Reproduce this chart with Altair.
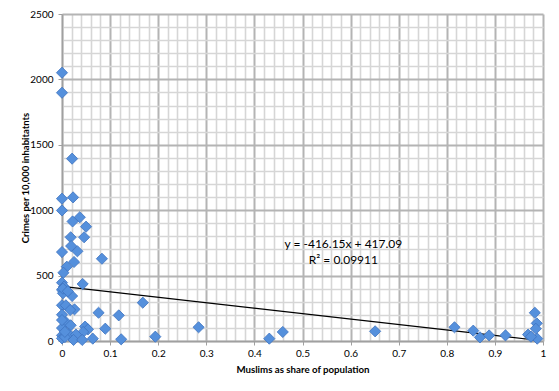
import altair as alt
import pandas as pd

# Data: share of Muslims (x) vs crimes per 10,000 inhabitants (y)
share = [
    0.0, 0.0, 0.021, 0.0, 0.023, 0.0, 0.022, 0.037, 0.050, 0.018,
    0.046, 0.019, 0.032, 0.0, 0.083, 0.025, 0.010, 0.003, 0.0, 0.043,
    0.004, 0.0, 0.002, 0.021, 0.168, 0.0, 0.008, 0.026, 0.017, 0.0,
    0.076, 0.118, 0.008, 0.018, 0.0, 0.048, 0.054, 0.090, 0.044, 0.014,
    0.0, 0.029, 0.024, 0.042, 0.064, 0.123, 0.194, 0.284, 0.0, 0.006,
    0.431, 0.459, 0.651, 0.816, 0.855, 0.869, 0.888, 0.922, 0.969, 0.983,
    0.987, 0.985, 0.988, 0.975, 0.002, 0.012, 0.0, 0.006,
]
crimes = [
    2051, 1898, 1394, 1088, 1098, 998, 914, 946, 874, 793,
    793, 726, 686, 680, 629, 604, 568, 522, 446, 436,
    415, 390, 365, 344, 293, 273, 273, 242, 237, 201,
    216, 196, 145, 120, 99, 110, 89, 94, 69, 54,
    43, 49, 8, 8, 18, 13, 33, 105, 20, 30,
    18, 69, 74, 105, 79, 28, 43, 43, 49, 216,
    135, 94, 18, 33, 400, 380, 160, 70,
]

# Linear trendline as printed on the chart
slope = -416.15
intercept = 417.09
trend_x = [0.0, 0.988]
trend_y = [intercept + slope * v for v in trend_x]

# Equation annotation (data coordinates)
eq_text = ["y = -416.15x + 417.09", "R² = 0.09911"]
eq_x = [0.585, 0.585]
eq_y = [745, 622]

x_ticks = [round(i * 0.02, 2) for i in range(51)]
y_ticks = [i * 100 for i in range(26)]

pts = pd.DataFrame({"x": share, "y": crimes})
trend = pd.DataFrame({"x": trend_x, "y": trend_y})
eq = pd.DataFrame({"x": eq_x, "y": eq_y, "t": eq_text})

FONT = "Lato"
x_major = "abs(datum.value*10 - round(datum.value*10)) < 0.001"
y_major = "abs(datum.value/500 - round(datum.value/500)) < 0.001"

xscale = alt.Scale(domain=[0, 1], nice=False, zero=False)
yscale = alt.Scale(domain=[0, 2500], nice=False)

x_axis = alt.Axis(
    values=x_ticks,
    title="Muslims as share of population",
    titleFont=FONT, titleFontSize=9.7, titleFontWeight="bold", titleColor="#000000",
    titlePadding=6,
    labelFont=FONT, labelFontSize=10, labelColor="#000000", labelPadding=3,
    labelExpr=f"{x_major} ? format(datum.value, '.1~f') : ''",
    labelFlush=False, labelOverlap=False,
    grid=True,
    gridColor={"condition": {"test": x_major, "value": "#b4b4b4"}, "value": "#d6d6d6"},
    gridWidth={"condition": {"test": x_major, "value": 2}, "value": 1.6},
    tickColor="#a0a0a0",
    tickSize={"condition": {"test": x_major, "value": 4}, "value": 0},
    domainColor="#a0a0a0", domainWidth=1.5,
)
y_axis = alt.Axis(
    values=y_ticks,
    title="Crimes per 10,000 inhabitatnts",
    titleFont=FONT, titleFontSize=9.5, titleFontWeight="bold", titleColor="#000000",
    titlePadding=-1,
    labelFont=FONT, labelFontSize=10, labelColor="#000000", labelPadding=5,
    labelExpr=f"{y_major} ? format(datum.value, 'd') : ''",
    labelFlush=False, labelOverlap=False,
    grid=True,
    gridColor={"condition": {"test": y_major, "value": "#b4b4b4"}, "value": "#d6d6d6"},
    gridWidth={"condition": {"test": y_major, "value": 2}, "value": 1.6},
    tickColor="#a0a0a0",
    tickSize={"condition": {"test": y_major, "value": 4}, "value": 0},
    domainColor="#a0a0a0", domainWidth=1.5,
)

X = alt.X("x:Q", scale=xscale, axis=x_axis)
Y = alt.Y("y:Q", scale=yscale, axis=y_axis)

points = alt.Chart(pts).mark_point(
    shape="diamond", filled=True, size=125, fill="#5590dc", stroke="#3d72bf",
    strokeWidth=0.8, opacity=1,
).encode(x=X, y=Y)

line = alt.Chart(trend).mark_line(color="#000000", strokeWidth=1.2).encode(x=X, y=Y)

label = alt.Chart(eq).mark_text(font=FONT, fontSize=12, color="#000000").encode(
    x=X, y=Y, text="t:N",
)

chart = alt.layer(line, points, label).properties(
    width=481, height=327,
    autosize=alt.AutoSizeParams(type="none"),
    padding={"left": 54, "top": 6, "right": 8, "bottom": 42},
    background="#ffffff",
).configure_view(stroke=None)

chart.save("out.html", embed_options={"renderer": "svg", "actions": False})
